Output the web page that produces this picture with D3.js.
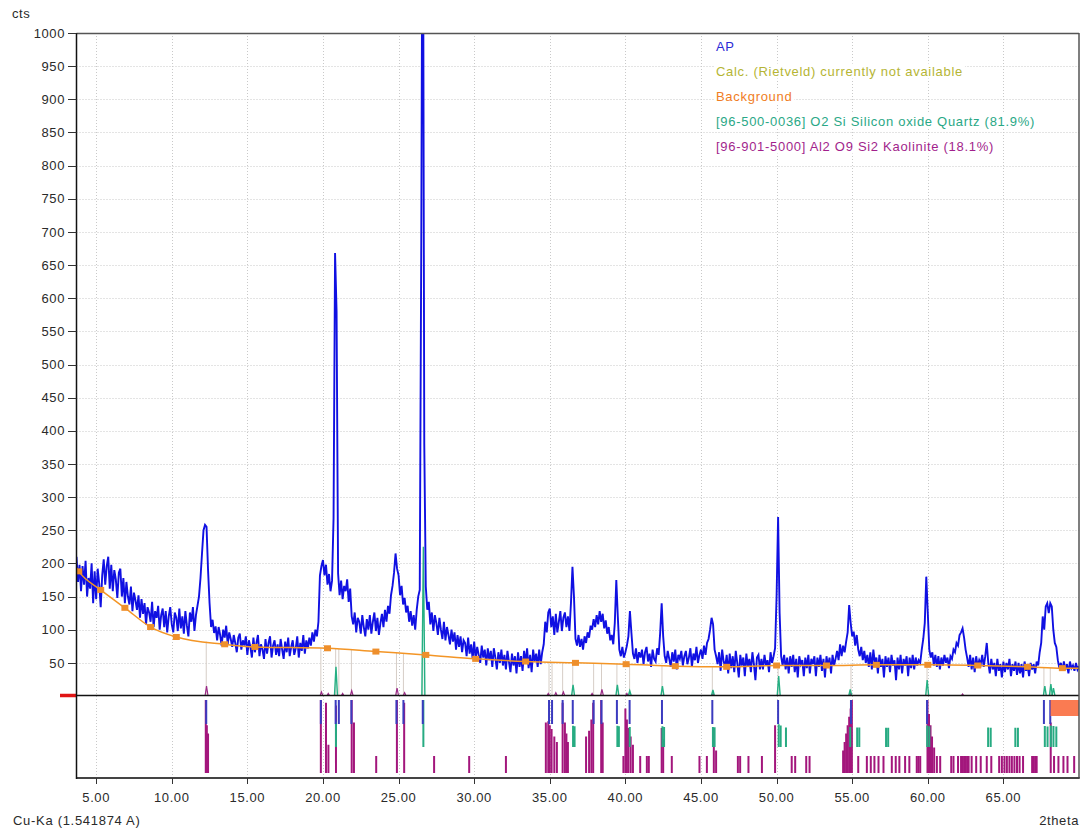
<!DOCTYPE html>
<html>
<head>
<meta charset="utf-8">
<script src="https://cdn.jsdelivr.net/npm/d3@7"></script>
<style>
  body { margin: 0; background: #fff; }
  svg { display: block; }
  text { font-family: "Liberation Sans", Arial, sans-serif; }
</style>
</head>
<body>
<svg id="chart" width="1085" height="832"></svg>
<script>
// ---- scan (Cu-Ka, 2theta from 3.7 deg, 0.1 deg steps) ----
const scanStart = 3.7;
const scanStep = 0.1;
const apCounts = [
  210, 172, 198,
  158, 196, 168, 204, 150, 178, 162, 200, 140, 188,
  146, 192, 170, 134, 182, 206, 168, 196, 210, 162,
  198, 158, 190, 176, 148, 186, 192, 150, 178, 140,
  172, 150, 138, 165, 128, 156, 144, 130, 152, 118,
  146, 124, 140, 108, 134, 126, 112, 142, 104, 128,
  118, 136, 100, 122, 132, 104, 128, 96, 120, 134,
  108, 96, 126, 118, 98, 132, 102, 120, 94, 128,
  106, 90, 126, 112, 134, 98, 122, 136, 150, 178,
  215, 250, 258, 255, 190, 140, 104, 115, 95, 105,
  84, 104, 92, 76, 100, 88, 106, 78, 96, 86,
  74, 92, 80, 66, 88, 94, 70, 84, 76, 90,
  62, 84, 74, 58, 88, 66, 80, 92, 60, 78,
  70, 56, 86, 64, 80, 90, 58, 76, 84, 62,
  78, 60, 86, 70, 56, 82, 66, 88, 60, 74,
  84, 62, 72, 90, 58, 80, 68, 92, 64, 84,
  72, 88, 76, 96, 82, 100, 90, 112, 182, 196,
  205, 182, 198, 168, 184, 158, 174, 268, 668, 580,
  185, 152, 174, 146, 166, 158, 176, 142, 162, 120,
  108, 126, 96, 118, 112, 94, 122, 104, 90, 116,
  100, 122, 94, 112, 126, 98, 118, 92, 110, 124,
  104, 130, 112, 136, 124, 152, 166, 186, 215, 192,
  182, 152, 166, 138, 148, 126, 136, 112, 128, 106,
  122, 100, 130, 150, 160, 680, 1400, 380, 165, 130,
  142, 108, 126, 98, 122, 110, 92, 118, 100, 86,
  112, 84, 104, 92, 78, 100, 82, 96, 70, 92,
  74, 90, 66, 84, 80, 60, 88, 64, 78, 56,
  82, 56, 74, 62, 50, 76, 58, 70, 46, 72,
  54, 68, 44, 72, 58, 40, 66, 50, 70, 46,
  62, 40, 68, 52, 36, 64, 46, 60, 34, 66,
  44, 60, 38, 68, 50, 72, 42, 62, 36, 70,
  52, 64, 44, 70, 48, 66, 78, 112, 96, 126,
  132, 104, 120, 92, 124, 96, 112, 128, 98, 118,
  126, 104, 120, 98, 140, 195, 150, 86, 76, 92,
  74, 86, 70, 90, 80, 96, 88, 106, 100, 116,
  104, 122, 108, 128, 112, 124, 102, 114, 94, 104,
  84, 92, 78, 110, 175, 120, 70, 60, 74, 58,
  66, 76, 90, 128, 95, 64, 56, 72, 50, 66,
  58, 70, 48, 66, 74, 52, 64, 44, 70, 56,
  52, 72, 62, 95, 140, 90, 60, 50, 68, 56,
  44, 66, 52, 70, 40, 62, 56, 68, 46, 60,
  68, 48, 58, 72, 44, 64, 54, 74, 50, 62,
  70, 56, 76, 62, 80, 86, 100, 118, 108, 70,
  60, 48, 66, 38, 70, 52, 44, 62, 34, 64,
  42, 60, 36, 68, 50, 28, 62, 46, 58, 30,
  64, 44, 56, 36, 66, 48, 24, 58, 62, 40,
  56, 40, 62, 46, 54, 36, 66, 50, 60, 72,
  150, 270, 125, 60, 46, 62, 40, 58, 34, 60,
  44, 62, 36, 56, 28, 60, 48, 54, 30, 58,
  42, 62, 34, 56, 48, 60, 30, 58, 44, 62,
  38, 56, 28, 60, 44, 58, 34, 62, 46, 56,
  68, 54, 78, 60, 76, 66, 82, 96, 137, 110,
  90, 97, 76, 92, 70, 60, 74, 54, 68, 50,
  62, 44, 66, 40, 70, 50, 58, 34, 62, 44,
  56, 28, 60, 44, 58, 36, 62, 46, 54, 24,
  58, 40, 62, 34, 56, 46, 60, 30, 58, 42,
  62, 40, 58, 46, 54, 50, 70, 86, 110, 180,
  125, 70, 58, 66, 46, 62, 44, 60, 40, 58,
  46, 62, 50, 58, 42, 60, 56, 70, 66, 80,
  76, 92, 96, 102, 88, 70, 58, 44, 62, 40,
  58, 36, 60, 44, 54, 48, 62, 44, 60, 80,
  50, 34, 56, 40, 50, 30, 56, 38, 48, 28,
  52, 36, 50, 40, 56, 30, 48, 38, 52, 32,
  50, 34, 48, 28, 52, 38, 46, 30, 50, 40,
  48, 34, 52, 46, 66, 80, 120, 100, 135, 140,
  125, 140, 135, 100, 80, 74, 54, 42, 50, 38,
  52, 40, 48, 34, 52, 42, 46, 38, 50, 40,
  45
];

// ---- background (control points, first and last are the scan ends) ----
const bgTheta  = [3.7, 3.85, 5.3, 6.9, 8.6, 10.3, 13.5, 15.5, 20.3, 23.5, 26.8, 30.1, 33.4, 36.7, 40.05, 43.3, 46.7, 50.0, 53.3, 56.6, 60.0, 63.3, 66.6, 68.9, 70.0];
const bgCounts = [193, 188, 160, 133, 104, 89, 78, 74, 72, 67, 62, 56, 52, 50, 48, 45, 44, 46, 46, 47, 47, 46, 44, 42, 42];

// ---- peak list ----
const peakTheta = [12.28, 19.86, 20.84, 21.05, 21.88, 24.86, 25.32, 26.6, 34.95, 35.15, 35.85, 36.52, 37.9, 38.42, 39.44, 40.28, 42.42, 45.75, 50.1, 54.92, 59.95, 67.68, 68.1];

// ---- calculated phase profiles near the zero line ----
const quartzCalcTheta  = [20.86, 26.64, 36.54, 39.47, 40.29, 42.45, 45.79, 50.14, 54.87, 59.96, 67.74, 68.14, 68.31];
const quartzCalcCounts = [44, 225, 17, 17, 8, 15, 9, 30, 10, 24, 15, 18, 12];
const kaoCalcTheta  = [12.3, 19.9, 20.35, 21.3, 21.9, 24.9, 25.4, 34.9, 35.4, 35.9, 37.8, 38.45, 40.1, 45.8, 54.9, 62.3];
const kaoCalcCounts = [15, 6, 4, 4, 8, 12, 5, 4, 5, 6, 4, 10, 4, 3, 4, 3];

// ---- reference patterns (relative intensity, %) ----
const quartzTheta = [20.86, 26.64, 36.54, 36.64, 39.47, 39.57, 40.29, 42.45, 42.56, 45.79, 45.9, 50.14, 50.27, 50.62, 54.87, 55.33, 55.47, 57.24, 57.38, 59.96, 60.1, 63.99, 64.16, 65.79, 65.96, 67.74, 67.92, 68.14, 68.31, 68.5];
const quartzInt   = [22, 100, 8, 6, 8, 6, 4, 6, 4, 4, 3, 13, 9, 2, 4, 2, 2, 1, 1, 9, 6, 2, 1, 1, 1, 7, 5, 9, 7, 5];

const kaoTheta = [
  12.25, 12.32, 12.4,
  19.86, 20.2, 20.36, 20.86, 21.9, 22.05, 23.52, 24.89, 25.37, 27.35, 29.67, 32.1,
  34.74, 34.9, 35.0, 35.12, 35.3, 35.47, 35.85, 36.0, 36.1, 36.2,
  37.4, 37.6, 37.75, 37.87, 38.4, 38.5,
  39.87, 40.0, 40.1, 40.2, 40.35, 40.5, 40.98, 41.42, 41.55,
  42.4, 42.5, 43.07, 44.9, 45.39, 45.85, 46.0, 47.44, 47.59, 48.14, 49.03, 49.9,
  51.0, 51.23, 51.96, 52.18,
  54.4, 54.5, 54.6, 54.7, 54.8, 54.9, 54.98, 55.4,
  55.97, 56.23, 56.47, 56.74, 57.07, 57.62, 57.88, 58.12, 58.5, 58.78, 59.27, 59.38, 59.5,
  59.98, 60.08, 60.18, 60.28, 60.42, 60.6, 60.82,
  61.55, 61.7, 62.0, 62.2, 62.3, 62.4, 62.5, 62.6, 62.7, 62.9, 63.2, 63.5, 63.9, 64.2,
  64.72, 64.9, 65.07, 65.23, 65.4, 65.56, 65.73, 65.9, 66.07, 66.3,
  66.9, 67.0, 67.1, 67.2, 68.13, 68.35, 68.64, 68.97, 69.24, 69.68
];
const kaoInt = [
  100, 55, 40,
  100, 95, 20, 90, 100, 60, 0, 100, 95, 0, 0, 0,
  60, 62, 55, 48, 35, 25, 95, 60, 40, 25,
  35, 45, 65, 95, 100, 60,
  0, 85, 65, 50, 35, 20, 0, 0, 0,
  50, 30, 0, 0, 0, 50, 10, 0, 0, 0, 0, 55,
  0, 0, 0, 0,
  10, 25, 40, 55, 70, 85, 100, 0,
  0, 0, 0, 0, 0, 0, 0, 0, 0, 0, 0, 0, 0,
  100, 75, 55, 35, 15, 0, 0,
  0, 0, 0, 0, 0, 0, 0, 0, 0, 0, 0, 0, 0, 0,
  0, 0, 0, 0, 0, 0, 0, 0, 0, 0,
  0, 0, 0, 0, 60, 0, 0, 0, 0, 0
];

// marked range at the end of the scan
const markedRange = [68.12, 70.0];

// ---- axes ----
const yTicks = d3.range(50, 1001, 50);
const xTicks = d3.range(5, 66, 5);

const legendLabels = [
  "AP",
  "Calc. (Rietveld) currently not available",
  "Background",
  "[96-500-0036] O2 Si Silicon oxide Quartz (81.9%)",
  "[96-901-5000] Al2 O9 Si2  Kaolinite (18.1%)"
];
const legendColors = ["#2b2bd6", "#b5b534", "#f07d24", "#2aa886", "#a21f8c"];

(function draw() {
  const pLeft = 76.5, pRight = 1079, pTop = 33, pZero = 696, pBottom = 778;
  const x = d3.scaleLinear().domain([3.7, 70.0]).range([pLeft, pRight]);
  const y = d3.scaleLinear().domain([0, 1000]).range([pZero, pTop]);

  const svg = d3.select("#chart");
  const defs = svg.append("defs");
  defs.append("clipPath").attr("id", "plotClip")
    .append("rect").attr("x", pLeft).attr("y", pTop)
    .attr("width", pRight - pLeft).attr("height", pZero - pTop);
  defs.append("clipPath").attr("id", "lowClip")
    .append("rect").attr("x", pLeft).attr("y", pZero)
    .attr("width", pRight - pLeft).attr("height", pBottom - pZero);

  // grid
  const grid = svg.append("g").attr("stroke", "#c9c9c9").attr("stroke-width", 1).attr("stroke-dasharray", "1,2");
  grid.selectAll("line.h").data(yTicks).join("line").attr("class", "h")
    .attr("x1", pLeft).attr("x2", pRight)
    .attr("y1", d => Math.round(y(d)) + 0.5).attr("y2", d => Math.round(y(d)) + 0.5);
  grid.selectAll("line.v").data(xTicks).join("line").attr("class", "v")
    .attr("y1", pTop).attr("y2", pBottom)
    .attr("x1", d => Math.round(x(d)) + 0.5).attr("x2", d => Math.round(x(d)) + 0.5);

  // legend (each label has its own white backing)
  const leg = svg.append("g");
  legendLabels.forEach((t, i) => {
    const g = leg.append("g");
    const txt = g.append("text")
      .attr("x", 716).attr("y", 46 + i * 25)
      .attr("dy", "0.35em")
      .attr("font-size", 13).attr("letter-spacing", 0.7)
      .attr("fill", legendColors[i]).text(t);
    const bb = txt.node().getBBox();
    g.insert("rect", "text").attr("x", bb.x - 2).attr("y", bb.y)
      .attr("width", bb.width + 4).attr("height", bb.height).attr("fill", "#fff");
  });

  // peak list markers from zero to background level (upper pane)
  const bgAt = d3.scaleLinear().domain(bgTheta).range(bgCounts);
  svg.append("g").attr("stroke", "#d6cdc6").attr("stroke-width", 1)
    .selectAll("line").data(peakTheta).join("line")
    .attr("x1", d => x(d)).attr("x2", d => x(d))
    .attr("y1", pZero).attr("y2", d => y(bgAt(d)));

  // calculated profiles at the zero line
  const spikePath = (t, c) => `M${x(t - 0.1)},${pZero}L${x(t)},${y(c)}L${x(t + 0.1)},${pZero}`;
  svg.append("g").attr("clip-path", "url(#plotClip)")
    .selectAll("path").data(d3.zip(kaoCalcTheta, kaoCalcCounts)).join("path")
    .attr("d", d => spikePath(d[0], d[1]))
    .attr("fill", "none").attr("stroke", "#9a2a86").attr("stroke-width", 1.2);
  svg.append("g").attr("clip-path", "url(#plotClip)")
    .selectAll("path").data(d3.zip(quartzCalcTheta, quartzCalcCounts)).join("path")
    .attr("d", d => spikePath(d[0], d[1]))
    .attr("fill", "none").attr("stroke", "#25b083").attr("stroke-width", 1.4);

  // measured pattern
  const line = d3.line()
    .x((d, i) => x(scanStart + i * scanStep))
    .y(d => y(d));
  svg.append("path").datum(apCounts)
    .attr("clip-path", "url(#plotClip)")
    .attr("d", line)
    .attr("fill", "none").attr("stroke", "#1010e2").attr("stroke-width", 1.9);

  // background curve with control points
  const bgLine = d3.line().curve(d3.curveMonotoneX)
    .x(d => x(d[0])).y(d => y(d[1]));
  const bgPts = d3.zip(bgTheta, bgCounts);
  svg.append("path").datum(bgPts)
    .attr("clip-path", "url(#plotClip)")
    .attr("d", bgLine).attr("fill", "none")
    .attr("stroke", "#f39526").attr("stroke-width", 1.5);
  svg.append("g").attr("clip-path", "url(#plotClip)")
    .selectAll("rect").data(bgPts.slice(1, -1)).join("rect")
    .attr("x", d => x(d[0]) - 3.5).attr("y", d => y(d[1]) - 3)
    .attr("width", 7).attr("height", 6).attr("fill", "#ee8f2c");

  // ---- lower pane: reference sticks ----
  const low = svg.append("g").attr("clip-path", "url(#lowClip)");
  const kaoBase = 773, quartzBase = 747, markTop = 700;
  const kaoH = d3.scaleLinear().domain([0, 100]).range([17, 73]);
  const qzH = d3.scaleLinear().domain([0, 100]).range([19, 47]);

  low.append("g").attr("stroke", "#a3167c").attr("stroke-width", 2)
    .selectAll("line").data(d3.zip(kaoTheta, kaoInt)).join("line")
    .attr("x1", d => x(d[0])).attr("x2", d => x(d[0]))
    .attr("y1", kaoBase).attr("y2", d => kaoBase - kaoH(d[1]));

  low.append("g").attr("stroke", "#27ab82").attr("stroke-width", 2)
    .selectAll("line").data(d3.zip(quartzTheta, quartzInt)).join("line")
    .attr("x1", d => x(d[0])).attr("x2", d => x(d[0]))
    .attr("y1", quartzBase).attr("y2", d => quartzBase - qzH(d[1]));

  low.append("g").attr("stroke", "#3b3bbf").attr("stroke-width", 2)
    .selectAll("line").data(peakTheta).join("line")
    .attr("x1", d => x(d)).attr("x2", d => x(d))
    .attr("y1", markTop).attr("y2", markTop + 24);

  low.append("rect")
    .attr("x", x(markedRange[0])).attr("y", 700)
    .attr("width", x(markedRange[1]) - x(markedRange[0])).attr("height", 16)
    .attr("fill", "#fa7b52");

  // zero line and its marker
  svg.append("line").attr("x1", pLeft).attr("x2", pRight)
    .attr("y1", 695.5).attr("y2", 695.5)
    .attr("stroke", "#111").attr("stroke-width", 1.5);
  svg.append("line").attr("x1", 60).attr("x2", pLeft)
    .attr("y1", 695.5).attr("y2", 695.5)
    .attr("stroke", "#e01515").attr("stroke-width", 3.5);

  // frame
  svg.append("line").attr("x1", pLeft).attr("x2", pRight).attr("y1", pTop + 0.5).attr("y2", pTop + 0.5)
    .attr("stroke", "#555").attr("stroke-width", 1.5);
  svg.append("line").attr("x1", pRight).attr("x2", pRight).attr("y1", pTop).attr("y2", pBottom)
    .attr("stroke", "#555").attr("stroke-width", 1.5);
  svg.append("line").attr("x1", pLeft).attr("x2", pRight + 0.75).attr("y1", pBottom).attr("y2", pBottom)
    .attr("stroke", "#444").attr("stroke-width", 2);
  svg.append("line").attr("x1", pLeft).attr("x2", pLeft).attr("y1", pTop).attr("y2", pBottom + 1)
    .attr("stroke", "#111").attr("stroke-width", 1.5);

  // y ticks
  const yAx = svg.append("g");
  yAx.selectAll("line").data(yTicks).join("line")
    .attr("x1", 68).attr("x2", pLeft)
    .attr("y1", d => Math.round(y(d)) + 0.5).attr("y2", d => Math.round(y(d)) + 0.5)
    .attr("stroke", "#333").attr("stroke-width", 1);
  yAx.selectAll("text").data(yTicks).join("text")
    .attr("x", 65).attr("y", d => y(d)).attr("dy", "0.36em")
    .attr("text-anchor", "end").attr("font-size", 13).attr("letter-spacing", 0.6)
    .attr("fill", "#2a2a2a").text(d => d);

  // x ticks
  const xAx = svg.append("g");
  xAx.selectAll("line").data(xTicks).join("line")
    .attr("x1", d => Math.round(x(d)) + 0.5).attr("x2", d => Math.round(x(d)) + 0.5)
    .attr("y1", pBottom).attr("y2", pBottom + 6)
    .attr("stroke", "#333").attr("stroke-width", 1);
  xAx.selectAll("text").data(xTicks).join("text")
    .attr("x", d => x(d)).attr("y", 802)
    .attr("text-anchor", "middle").attr("font-size", 13).attr("letter-spacing", 0.6)
    .attr("fill", "#2a2a2a").text(d => d.toFixed(2));

  // axis titles
  svg.append("text").attr("x", 12).attr("y", 18).attr("font-size", 13).attr("letter-spacing", 0.6)
    .attr("fill", "#2a2a2a").text("cts");
  svg.append("text").attr("x", 13).attr("y", 825).attr("font-size", 13).attr("letter-spacing", 0.7)
    .attr("fill", "#2a2a2a").text("Cu-Ka (1.541874 A)");
  svg.append("text").attr("x", 1079).attr("y", 825).attr("text-anchor", "end")
    .attr("font-size", 13).attr("letter-spacing", 0.6)
    .attr("fill", "#2a2a2a").text("2theta");
})();
</script>
</body>
</html>
